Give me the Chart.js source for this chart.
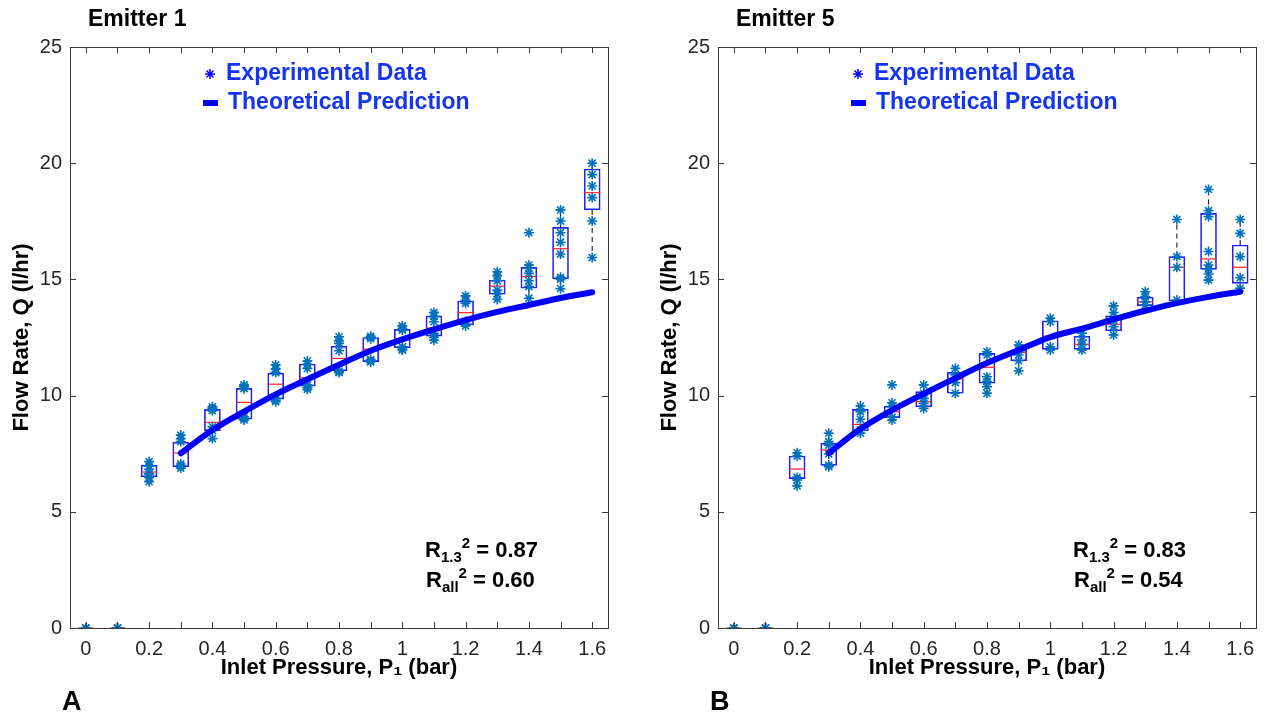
<!DOCTYPE html>
<html>
<head>
<meta charset="utf-8">
<script src="https://cdn.jsdelivr.net/npm/chart.js@4.4.1/dist/chart.umd.min.js"></script>
<style>
html, body { margin: 0; padding: 0; background: #fff; }
body { width: 1271px; height: 714px; position: relative; overflow: hidden; }
.panel { position: absolute; top: 0; width: 623px; height: 714px; }
</style>
</head>
<body>
<div class="panel" style="left:0"><canvas id="chartA" width="623" height="714"></canvas></div>
<div class="panel" style="left:648px"><canvas id="chartB" width="623" height="714"></canvas></div>
<script>
const FONT = "'Liberation Sans', Arial, Helvetica, sans-serif";

// inlet pressure categories (bar)
const pressures = [0, 0.1, 0.2, 0.3, 0.4, 0.5, 0.6, 0.7, 0.8, 0.9, 1.0, 1.1, 1.2, 1.3, 1.4, 1.5, 1.6];
const theoryPressures = [0.3, 0.4, 0.5, 0.6, 0.7, 0.8, 0.9, 1.0, 1.1, 1.2, 1.3, 1.4, 1.5, 1.6];
const xTickValues = [0, 0.1, 0.2, 0.3, 0.4, 0.5, 0.6, 0.7, 0.8, 0.9, 1.0, 1.1, 1.2, 1.3, 1.4, 1.5, 1.6];
const yTickValues = [0, 5, 10, 15, 20, 25];

// Emitter 1
const e1Q1     = [0, 0, 6.50, 6.94, 8.49, 8.99, 9.85, 10.41, 11.07, 11.46, 12.06, 12.56, 13.04, 14.36, 14.62, 15.02, 17.99];
const e1Median = [0, 0, 6.71, 7.53, 8.85, 9.71, 10.49, 10.77, 11.60, 12.00, 12.45, 12.90, 13.57, 14.71, 15.12, 16.32, 18.73];
const e1Q3     = [0, 0, 7.01, 8.00, 9.41, 10.31, 10.96, 11.36, 12.13, 12.50, 12.85, 13.43, 14.07, 14.97, 15.52, 17.24, 19.75];
const e1Low    = [0, 0, 6.30, 6.88, 8.15, 8.95, 9.74, 10.27, 10.99, 11.45, 11.96, 12.39, 13.00, 14.14, 14.19, 14.60, 15.94];
const e1High   = [0, 0, 7.16, 8.30, 9.52, 10.46, 11.32, 11.49, 12.53, 12.55, 13.00, 13.58, 14.29, 15.33, 15.62, 17.99, 20.00];
const e1Points = [
  [0, 0, 0], [0, 0, 0],
  [7.16, 6.97, 6.83, 6.63, 6.48, 6.30],
  [8.30, 8.15, 8.02, 7.06, 6.98, 6.88],
  [9.52, 9.45, 9.35, 8.66, 8.50, 8.15],
  [10.46, 10.38, 10.30, 9.09, 9.00, 8.95],
  [11.32, 11.15, 10.99, 9.88, 9.80, 9.74],
  [11.49, 11.35, 11.17, 10.46, 10.35, 10.27],
  [12.53, 12.35, 12.25, 11.93, 11.05, 10.99],
  [12.55, 12.50, 12.45, 11.55, 11.49, 11.45],
  [13.00, 12.90, 12.82, 12.10, 12.00, 11.96],
  [13.58, 13.40, 13.18, 12.68, 12.50, 12.39],
  [14.29, 14.10, 13.97, 13.20, 13.00],
  [15.33, 15.15, 14.94, 14.54, 14.37, 14.14],
  [17.01, 15.62, 15.48, 15.26, 14.94, 14.69, 14.19],
  [17.99, 17.51, 17.01, 16.60, 16.09, 15.09, 15.01, 14.60],
  [20.00, 19.51, 19.02, 18.52, 17.51, 15.94]
];
const e1Theory = [7.52, 8.52, 9.31, 10.05, 10.70, 11.33, 11.93, 12.42, 12.85, 13.25, 13.60, 13.90, 14.20, 14.45];

// Emitter 5
const e5Q1     = [0, 0, 6.43, 7.00, 8.48, 9.05, 9.52, 10.10, 10.53, 11.50, 11.99, 11.99, 12.79, 13.87, 14.07, 15.43, 14.83];
const e5Median = [0, 0, 6.84, 7.66, 8.76, 9.31, 9.74, 10.71, 11.22, 11.86, 12.56, 12.21, 13.07, 14.03, 15.52, 15.88, 15.52];
const e5Q3     = [0, 0, 7.40, 7.95, 9.41, 9.55, 10.17, 11.00, 11.82, 11.96, 13.22, 12.56, 13.43, 14.24, 15.98, 17.84, 16.48];
const e5Low    = [0, 0, 6.11, 6.94, 8.38, 8.95, 9.45, 10.10, 10.10, 11.07, 11.96, 11.96, 12.61, 13.90, 14.07, 14.97, 14.62];
const e5High   = [0, 0, 7.54, 8.38, 9.55, 9.69, 10.46, 11.17, 11.89, 12.18, 13.33, 12.68, 13.86, 14.47, 17.58, 18.87, 17.58];
const e5Points = [
  [0, 0, 0], [0, 0, 0],
  [7.54, 7.40, 6.48, 6.37, 6.11],
  [8.38, 8.02, 7.87, 7.49, 7.01, 6.94],
  [9.55, 9.31, 8.98, 8.52, 8.38],
  [10.46, 9.69, 9.52, 9.07, 8.95],
  [10.46, 10.10, 9.88, 9.67, 9.45],
  [11.17, 10.89, 10.56, 10.10],
  [11.89, 11.75, 10.81, 10.60, 10.38, 10.10],
  [12.18, 11.96, 11.75, 11.50, 11.07],
  [13.33, 13.18, 12.10, 11.96],
  [12.68, 12.39, 12.18, 11.96],
  [13.86, 13.57, 13.25, 12.97, 12.61],
  [14.47, 14.26, 14.04, 13.90],
  [17.58, 15.98, 15.52, 14.11],
  [18.87, 17.96, 17.70, 16.20, 15.62, 15.45, 15.23, 14.97],
  [17.58, 16.98, 15.98, 15.07, 14.62]
];
const e5Theory = [7.52, 8.57, 9.38, 10.08, 10.75, 11.40, 11.96, 12.52, 12.88, 13.28, 13.65, 13.98, 14.25, 14.47];

function drawRich(ctx, parts, x, y, size) {
    let cx = x;
    parts.forEach(p => {
        const s = p.sub || p.sup ? Math.round(size * 0.68) : size;
        ctx.font = `bold ${s}px ${FONT}`;
        let dy = 0;
        if (p.sub) dy = size * 0.22;
        if (p.sup) dy = -size * 0.42;
        ctx.fillText(p.t, cx, y + dy);
        cx += ctx.measureText(p.t).width;
    });
}

const panelDecor = {
    id: 'panelDecor',
    beforeDatasetsDraw(chart, args, opts) {
        // whiskers
        const { ctx, scales: { x, y } } = chart;
        ctx.save();
        ctx.strokeStyle = '#000';
        ctx.lineWidth = 1;
        pressures.forEach((p, i) => {
            const px = x.getPixelForValue(p);
            const segs = [[opts.q3[i], opts.high[i]], [opts.q1[i], opts.low[i]]];
            segs.forEach(([a, b]) => {
                if (Math.abs(a - b) < 0.01) return;
                ctx.setLineDash([5, 4]);
                ctx.beginPath();
                ctx.moveTo(px, y.getPixelForValue(a));
                ctx.lineTo(px, y.getPixelForValue(b));
                ctx.stroke();
                ctx.setLineDash([]);
                ctx.beginPath();
                ctx.moveTo(px - 4, y.getPixelForValue(b));
                ctx.lineTo(px + 4, y.getPixelForValue(b));
                ctx.stroke();
            });
        });
        ctx.restore();
    },
    afterDraw(chart, args, opts) {
        const { ctx, chartArea: a, scales: { x, y } } = chart;
        ctx.save();
        // frame
        ctx.strokeStyle = '#3a3a3a';
        ctx.lineWidth = 1;
        ctx.strokeRect(Math.round(a.left) + 0.5, Math.round(a.top) + 0.5,
            Math.round(a.right - a.left), Math.round(a.bottom - a.top));
        // inward ticks on all sides
        ctx.beginPath();
        xTickValues.forEach(v => {
            const px = Math.round(x.getPixelForValue(v)) + 0.5;
            ctx.moveTo(px, a.bottom); ctx.lineTo(px, a.bottom - 6);
            ctx.moveTo(px, a.top); ctx.lineTo(px, a.top + 6);
        });
        yTickValues.forEach(v => {
            const py = Math.round(y.getPixelForValue(v)) + 0.5;
            ctx.moveTo(a.left, py); ctx.lineTo(a.left + 6, py);
            ctx.moveTo(a.right, py); ctx.lineTo(a.right - 6, py);
        });
        ctx.stroke();

        // legend
        const sx = a.left + 140, sy = a.top + 27;
        ctx.strokeStyle = '#0000FF';
        ctx.lineWidth = 1.5;
        ctx.beginPath();
        for (let k = 0; k < 4; k++) {
            const ang = k * Math.PI / 4;
            ctx.moveTo(sx - 5 * Math.cos(ang), sy - 5 * Math.sin(ang));
            ctx.lineTo(sx + 5 * Math.cos(ang), sy + 5 * Math.sin(ang));
        }
        ctx.stroke();
        ctx.lineWidth = 6;
        ctx.beginPath();
        ctx.moveTo(a.left + 133, a.top + 56);
        ctx.lineTo(a.left + 148, a.top + 56);
        ctx.stroke();
        ctx.fillStyle = '#1434F0';
        ctx.font = `bold 23px ${FONT}`;
        ctx.textBaseline = 'middle';
        ctx.fillText('Experimental Data', a.left + 156, sy);
        ctx.fillText('Theoretical Prediction', a.left + 158, a.top + 56);

        // R^2 annotations
        ctx.fillStyle = '#000';
        ctx.textBaseline = 'alphabetic';
        drawRich(ctx, [{ t: 'R' }, { t: '1.3', sub: true }, { t: '2', sup: true }, { t: ' = ' + opts.r13 }], a.left + 355, a.top + 510, 22);
        drawRich(ctx, [{ t: 'R' }, { t: 'all', sub: true }, { t: '2', sup: true }, { t: ' = ' + opts.rall }], a.left + 356, a.top + 540, 22);

        // panel title and letter
        ctx.font = `bold 23px ${FONT}`;
        ctx.fillText(opts.title, a.left + 18, 26);
        ctx.font = `bold 27px ${FONT}`;
        ctx.fillText(opts.letter, a.left - 8, 710);
        ctx.restore();
    }
};

function makeChart(canvasId, q1, median, q3, low, high, points, theory, title, letter, r13, rall) {
    const ctx = document.getElementById(canvasId).getContext('2d');
    const scatterData = [];
    points.forEach((vals, i) => vals.forEach(v => scatterData.push({ x: pressures[i], y: v })));

    const datasets = [
        {
            type: 'line',
            label: 'Theoretical Prediction',
            data: theoryPressures.map((p, i) => ({ x: p, y: theory[i] })),
            borderColor: '#0000FF',
            borderWidth: 6,
            pointRadius: 0,
            tension: 0.3,
            borderCapStyle: 'round',
            order: 0
        },
        {
            type: 'scatter',
            label: 'Experimental Data',
            data: scatterData,
            pointStyle: 'star',
            pointRadius: 5,
            borderWidth: 1.6,
            borderColor: '#0072BD',
            backgroundColor: '#0072BD',
            clip: 0,
            order: 1
        },
        {
            type: 'scatter',
            label: 'Median',
            data: pressures.map((p, i) => ({ x: p, y: median[i] })),
            pointStyle: 'line',
            pointRadius: 8,
            borderWidth: 1.2,
            borderColor: '#FF2020',
            order: 2
        },
        {
            type: 'bar',
            label: 'IQR',
            data: pressures.map((p, i) => ({ x: p, y: [q1[i], q3[i]] })),
            backgroundColor: 'rgba(0,0,0,0)',
            borderColor: '#2020FF',
            borderWidth: 1,
            borderSkipped: false,
            barThickness: 16,
            order: 3
        }
    ];

    return new Chart(ctx, {
        type: 'scatter',
        data: { datasets },
        options: {
            responsive: false,
            animation: false,
            layout: { padding: { top: 47, right: 15, left: 0, bottom: 0 } },
            plugins: {
                legend: { display: false },
                tooltip: { enabled: false },
                panelDecor: { q1, q3, low, high, title, letter, r13, rall }
            },
            scales: {
                x: {
                    type: 'linear',
                    offset: false,
                    min: -0.05,
                    max: 1.65,
                    afterBuildTicks: s => { s.ticks = xTickValues.map(v => ({ value: v })); },
                    afterFit: s => { s.height = 86; },
                    grid: { display: false, drawTicks: false },
                    border: { display: false },
                    ticks: {
                        autoSkip: false,
                        maxRotation: 0,
                        padding: 9,
                        color: '#262626',
                        font: { family: FONT, size: 20 },
                        callback: (v, i) => (i % 2 === 0 ? String(Number(v.toFixed(1))) : '')
                    },
                    title: {
                        display: true,
                        text: 'Inlet Pressure, P\u2081 (bar)',
                        color: '#000',
                        font: { family: FONT, size: 22, weight: 'bold' },
                        padding: { top: 0, bottom: 33 }
                    }
                },
                y: {
                    min: 0,
                    max: 25,
                    afterFit: s => { s.width = 70; },
                    grid: { display: false, drawTicks: false },
                    border: { display: false },
                    ticks: {
                        stepSize: 5,
                        padding: 8,
                        color: '#262626',
                        font: { family: FONT, size: 20 }
                    },
                    title: {
                        display: true,
                        text: 'Flow Rate, Q (l/hr)',
                        color: '#000',
                        font: { family: FONT, size: 22, weight: 'bold' },
                        padding: { top: 9, bottom: 0 }
                    }
                }
            }
        },
        plugins: [panelDecor]
    });
}

makeChart('chartA', e1Q1, e1Median, e1Q3, e1Low, e1High, e1Points, e1Theory, 'Emitter 1', 'A', '0.87', '0.60');
makeChart('chartB', e5Q1, e5Median, e5Q3, e5Low, e5High, e5Points, e5Theory, 'Emitter 5', 'B', '0.83', '0.54');
</script>
</body>
</html>
